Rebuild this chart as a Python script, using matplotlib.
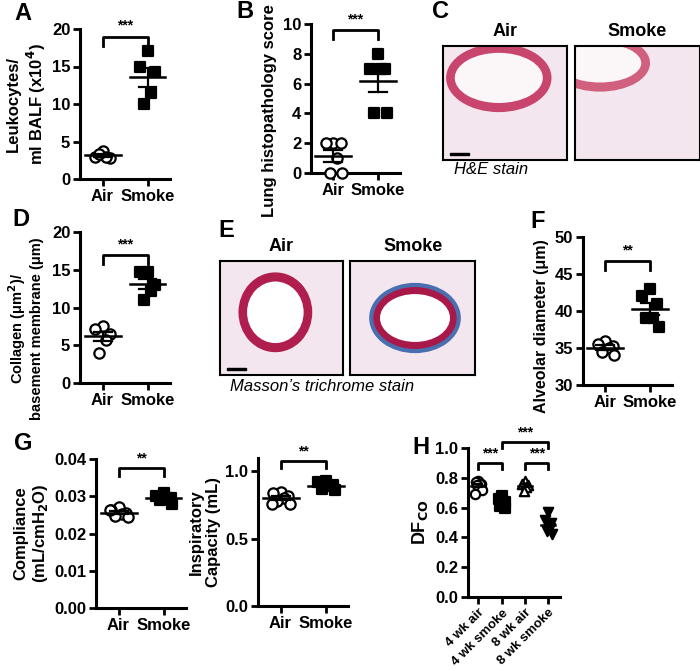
import numpy as np
import matplotlib
matplotlib.use("Agg")
import matplotlib.pyplot as plt
from matplotlib.patches import Ellipse, Rectangle

plt.rcParams['font.family'] = ['Liberation Sans', 'DejaVu Sans']
plt.rcParams['font.weight'] = 'bold'
plt.rcParams['axes.linewidth'] = 2.2

W, H = 700, 671

# data
groups2 = ["Air", "Smoke"]
leuko_air = [3.8, 3.0, 2.8, 2.9, 3.3]
leuko_smoke = [17.1, 15.0, 14.3, 11.5, 10.0]
histo_air = [2, 2, 2, 1, 0, 0]
histo_smoke = [8, 7, 7, 7, 4, 4]
collagen_air = [7.5, 7.2, 6.5, 5.7, 4.0]
collagen_smoke = [14.7, 14.7, 13.0, 12.2, 11.0]
alv_air = [36.0, 35.6, 35.3, 35.0, 34.5, 34.0]
alv_smoke = [43.0, 42.0, 41.0, 39.0, 39.0, 37.8]
comp_air = [0.0272, 0.0262, 0.0256, 0.0252, 0.0246, 0.0243, 0.0262]
comp_smoke = [0.0310, 0.0302, 0.0296, 0.0294, 0.0290, 0.0280]
ic_air = [0.85, 0.84, 0.82, 0.80, 0.78, 0.76, 0.76]
ic_smoke = [0.93, 0.92, 0.90, 0.89, 0.87, 0.86]
h_labels = ["4 wk air", "4 wk smoke", "8 wk air", "8 wk smoke"]
dfco = [[0.78, 0.77, 0.76, 0.76, 0.75, 0.72, 0.69],
        [0.68, 0.66, 0.64, 0.62, 0.61, 0.60],
        [0.78, 0.76, 0.75, 0.74, 0.71],
        [0.57, 0.52, 0.50, 0.46, 0.44, 0.42]]
h_markers = ["o", "s", "^", "v"]
h_filled = [False, True, False, True]

fig = plt.figure(figsize=(W / 100, H / 100), dpi=100)


def px_axes(x0, y_top, x1, y_bot):
    return fig.add_axes([x0 / W, 1 - y_bot / H, (x1 - x0) / W, (y_bot - y_top) / H])


def style(ax, size=12):
    for s in ["top", "right"]:
        ax.spines[s].set_visible(False)
    ax.tick_params(width=2, length=5, labelsize=size, pad=2)
    for t in ax.get_yticklabels() + ax.get_xticklabels():
        t.set_fontweight('bold')


JIT = [0.0, -0.17, 0.17, 0.08, -0.08, 0.2, -0.2]


def dots(ax, x, vals, marker, filled, s=55, spread=1.0):
    n = len(vals)
    offs = np.array([JIT[i % len(JIT)] for i in range(n)]) * spread
    ax.scatter(x + offs, vals, marker=marker, s=s,
               facecolor='black' if filled else 'white', edgecolor='black',
               linewidth=1.6, zorder=3, clip_on=False)
    m = np.mean(vals)
    se = np.std(vals, ddof=1) / np.sqrt(n)
    hw = 0.4 * spread
    ax.plot([x - hw, x + hw], [m, m], color='black', lw=1.8, zorder=4)
    ax.plot([x - hw / 2, x + hw / 2], [m + se] * 2, color='black', lw=1.6, zorder=4)
    ax.plot([x - hw / 2, x + hw / 2], [m - se] * 2, color='black', lw=1.6, zorder=4)
    ax.plot([x, x], [m - se, m + se], color='black', lw=1.6, zorder=4)


def bracket(ax, x0, x1, y, h, text):
    ax.plot([x0, x0, x1, x1], [y - h, y, y, y - h], color='black', lw=2, clip_on=False)
    ax.text((x0 + x1) / 2, y + h * 0.4, text, ha='center', va='bottom', fontsize=10)


def two_group(ax, a, s, ylim, ticks, ylabel, sig, by, bh, lsize=12):
    dots(ax, 0, a, 'o', False)
    dots(ax, 1, s, 's', True)
    ax.set_xlim(-0.5, 1.5)
    ax.set_ylim(*ylim)
    ax.set_yticks(ticks)
    ax.set_xticks([0, 1])
    ax.set_xticklabels(groups2)
    ax.set_ylabel(ylabel, fontsize=lsize, fontweight='bold', labelpad=3)
    bracket(ax, 0, 1, by, bh, sig)
    style(ax)


def label(x, y, t):
    fig.text(x / W, 1 - y / H, t, fontsize=17, fontweight='bold', va='center', ha='left')


# A
ax = px_axes(80, 29, 170, 179)
two_group(ax, leuko_air, leuko_smoke, (0, 20), [0, 5, 10, 15, 20],
          "Leukocytes/\nml BALF (x10$^\\mathbf{4}$)", "***", 19, 1.2)
label(14, 14, "A")
# B
ax = px_axes(311, 24, 400, 173)
two_group(ax, histo_air, histo_smoke, (0, 10), [0, 2, 4, 6, 8, 10],
          "Lung histopathology score", "***", 9.6, 0.6)
ax.yaxis.set_label_coords(-0.38, 0.42)
label(236, 12, "B")
# D
ax = px_axes(80, 232, 170, 383)
two_group(ax, collagen_air, collagen_smoke, (0, 20), [0, 5, 10, 15, 20],
          "Collagen (μm$^\\mathbf{2}$)/\nbasement membrane (μm)", "***", 17, 1.2, lsize=10.5)
ax.yaxis.set_label_coords(-0.4, 0.36)
label(12, 220, "D")
# F
ax = px_axes(583, 237, 672, 385)
two_group(ax, alv_air, alv_smoke, (30, 50), [30, 35, 40, 45, 50],
          "Alveolar diameter (μm)", "**", 46.8, 1.2, lsize=11.5)
ax.yaxis.set_label_coords(-0.38, 0.4)
label(530, 222, "F")
# G
ax = px_axes(96, 459, 186, 608)
two_group(ax, comp_air, comp_smoke, (0, 0.04), [0, 0.01, 0.02, 0.03, 0.04],
          "Compliance\n(mL/cmH$_\\mathbf{2}$O)", "**", 0.0375, 0.002)
ax.set_yticklabels(["0.00", "0.01", "0.02", "0.03", "0.04"])
label(14, 443, "G")
ax = px_axes(258, 458, 348, 606)
two_group(ax, ic_air, ic_smoke, (0, 1.1), [0, 0.5, 1.0],
          "Inspiratory\nCapacity (mL)", "**", 1.075, 0.05)
ax.set_yticklabels(["0.0", "0.5", "1.0"])

# H
ax = px_axes(468, 448, 560, 597)
for i, vals in enumerate(dfco):
    dots(ax, i, vals, h_markers[i], h_filled[i], s=45, spread=0.75)
ax.set_xlim(-0.45, 3.5)
ax.set_ylim(0, 1.0)
ax.set_yticks([0, 0.2, 0.4, 0.6, 0.8, 1.0])
ax.set_xticks(range(4))
ax.set_xticklabels(h_labels)
ax.set_ylabel("DF$_{\\mathbf{CO}}$", fontsize=13, fontweight='bold')
bracket(ax, 0, 1, 0.9, 0.04, "***")
bracket(ax, 2, 3, 0.9, 0.04, "***")
bracket(ax, 1, 3, 1.04, 0.04, "***")
style(ax)
for t in ax.get_xticklabels():
    t.set_rotation(45)
    t.set_ha('right')
    t.set_rotation_mode('anchor')
    t.set_fontsize(9.5)
label(412, 448, "H")


# C and E: micrographs cannot be reproduced; schematic panels
def micro(x0, y0, x1, y1, ring, wall, lumen, blue=False):
    a = px_axes(x0, y0, x1, y1)
    a.set_xlim(0, 1)
    a.set_ylim(0, 1)
    a.set_facecolor('#f3e6ee')
    a.add_patch(Ellipse(ring[:2], ring[2], ring[3], facecolor=wall,
                        edgecolor='#4a6fb0' if blue else wall, lw=3 if blue else 0))
    a.add_patch(Ellipse(ring[:2], ring[2] - 0.14, ring[3] - 0.16, facecolor=lumen, edgecolor='none'))
    a.set_xticks([])
    a.set_yticks([])
    for s in a.spines.values():
        s.set_linewidth(1.5)
    return a


a = micro(443, 46, 567, 160, (0.45, 0.72, 0.85, 0.6), '#c8456e', '#fbf6f8')
a.add_patch(Rectangle((0.06, 0.04), 0.15, 0.025, color='black'))
micro(575, 46, 700, 160, (0.2, 0.85, 0.8, 0.5), '#d0607e', '#fbf6f8')
fig.text(505 / W, 1 - 32 / H, "Air", fontsize=13, ha='center', va='center')
fig.text(637 / W, 1 - 32 / H, "Smoke", fontsize=13, ha='center', va='center')
fig.text(454 / W, 1 - 170 / H, "H&E stain", fontsize=12, style='italic', fontweight='normal', va='center')
label(432, 12, "C")

a = micro(220, 261, 343, 375, (0.45, 0.55, 0.6, 0.7), '#b01e4e', '#ffffff')
a.add_patch(Rectangle((0.06, 0.04), 0.15, 0.025, color='black'))
micro(350, 261, 475, 375, (0.52, 0.5, 0.7, 0.58), '#a81848', '#ffffff', blue=True)
fig.text(281 / W, 1 - 247 / H, "Air", fontsize=13, ha='center', va='center')
fig.text(413 / W, 1 - 247 / H, "Smoke", fontsize=13, ha='center', va='center')
fig.text(230 / W, 1 - 386 / H, "Masson\u2019s trichrome stain", fontsize=12, style='italic', fontweight='normal', va='center')
label(218, 230, "E")

fig.savefig("out.png", dpi=100)
